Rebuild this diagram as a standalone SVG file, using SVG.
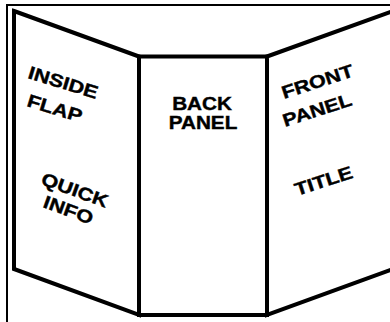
<svg xmlns="http://www.w3.org/2000/svg" width="390" height="322" viewBox="0 0 390 322">
<style>
.frame{fill:none;stroke:#000;stroke-width:2}
.panel{fill:#fff;stroke:#000;stroke-width:4;stroke-linejoin:miter}
.lbl{font-family:"Liberation Sans",Arial,sans-serif;font-weight:bold;font-size:18px;fill:#000;stroke:#000;stroke-width:0.4}
</style>
<rect width="390" height="322" fill="#fff"/>
<g id="frame"><path class="frame" d="M7,322 V5 H390"/></g>
<g id="inside-flap">
<path class="panel" d="M14,11 L139,56.5 V315 L14,269 Z"/>
<text class="lbl" transform="translate(27,78) rotate(17) scale(1.2,1)">INSIDE</text>
<text class="lbl" transform="translate(26,106) rotate(17) scale(1.2,1)">FLAP</text>
<text class="lbl" transform="translate(40,184) rotate(20) scale(1.2,1)">QUICK</text>
<text class="lbl" transform="translate(42,207) rotate(20) scale(1.2,1)">INFO</text>
</g>
<g id="back-panel">
<path class="panel" d="M139,56.5 H267 V315 H139 Z"/>
<text class="lbl" text-anchor="middle" transform="translate(202,110) scale(1.15,1)">BACK</text>
<text class="lbl" text-anchor="middle" transform="translate(203,129) scale(1.15,1)">PANEL</text>
</g>
<g id="front-panel">
<path class="panel" d="M267,56.5 L392,11.5 V269.5 L267,315 Z"/>
<text class="lbl" transform="translate(284,99) rotate(-18) scale(1.2,1)">FRONT</text>
<text class="lbl" transform="translate(285,127) rotate(-18) scale(1.2,1)">PANEL</text>
<text class="lbl" transform="translate(297,196) rotate(-18) scale(1.2,1)">TITLE</text>
</g>
</svg>
